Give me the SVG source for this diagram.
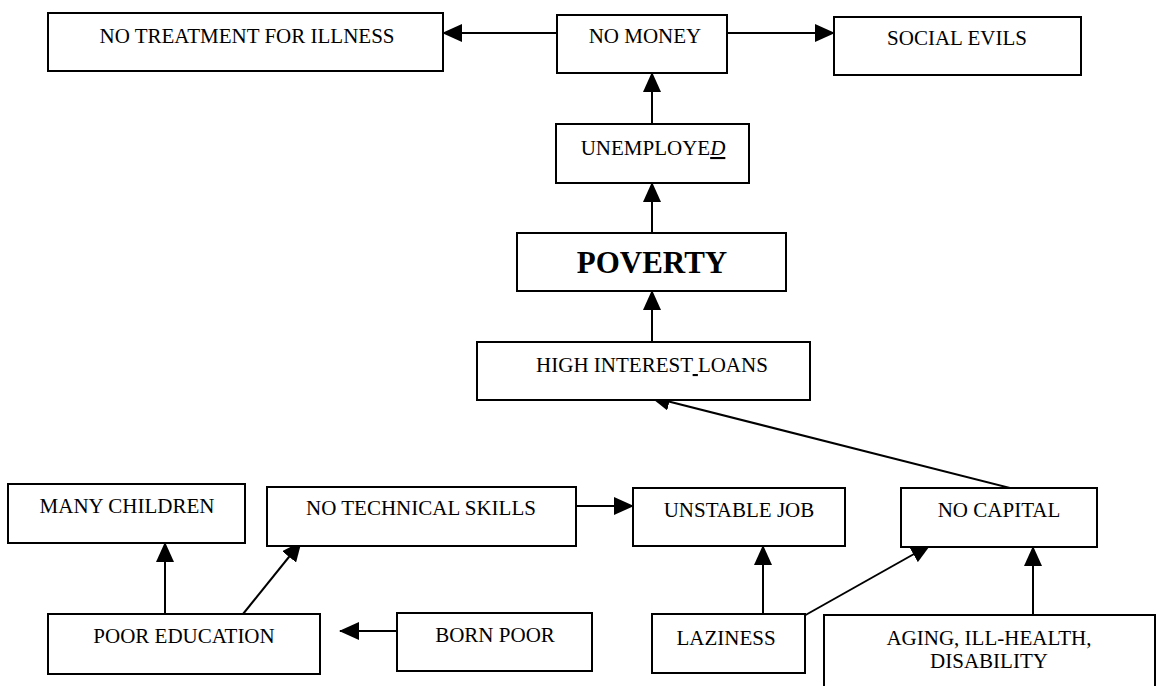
<svg xmlns="http://www.w3.org/2000/svg" width="1157" height="686" viewBox="0 0 1157 686">
<defs>
<marker id="ah" markerWidth="20" markerHeight="18" refX="19" refY="9" orient="auto" markerUnits="userSpaceOnUse">
<path d="M0,0 L20,9 L0,18 z" fill="#000"/>
</marker>
<style>
.box{fill:#fff;stroke:#000;stroke-width:2}
.t{font-family:"Liberation Serif","Times New Roman",serif;font-size:21px;fill:#000;text-anchor:middle}
.big{font-family:"Liberation Serif","Times New Roman",serif;font-size:31px;font-weight:bold;fill:#000;text-anchor:middle}
.c{stroke:#000;stroke-width:2;fill:none;marker-end:url(#ah)}
</style>
</defs>
<rect width="1157" height="686" fill="#fff"/>
<g id="connectors">
<line class="c" x1="557" y1="33" x2="443" y2="33"/>
<line class="c" x1="727" y1="33" x2="834" y2="33"/>
<line class="c" x1="652" y1="124" x2="652" y2="73"/>
<line class="c" x1="652" y1="233" x2="652" y2="183"/>
<line class="c" x1="652" y1="342" x2="652" y2="291"/>
<line class="c" x1="1034" y1="494" x2="651" y2="397"/>
<line class="c" x1="165" y1="614" x2="165" y2="543"/>
<line class="c" x1="243" y1="614" x2="301" y2="542"/>
<line class="c" x1="397" y1="631" x2="340" y2="631"/>
<line class="c" x1="576" y1="506" x2="633" y2="506"/>
<line class="c" x1="763" y1="614" x2="763" y2="546"/>
<line class="c" x1="802" y1="617" x2="930" y2="545"/>
<line class="c" x1="1033" y1="615" x2="1033" y2="547"/>
</g>
<g id="no-treatment"><rect class="box" x="48" y="13" width="395" height="58"/><text class="t" x="247" y="43">NO TREATMENT FOR ILLNESS</text></g>
<g id="no-money"><rect class="box" x="557" y="15" width="170" height="58"/><text class="t" x="645" y="43">NO MONEY</text></g>
<g id="social-evils"><rect class="box" x="834" y="17" width="247" height="58"/><text class="t" x="957" y="45">SOCIAL EVILS</text></g>
<g id="unemployed"><rect class="box" x="556" y="124" width="193" height="59"/><text class="t" x="653" y="155">UNEMPLOYE<tspan font-style="italic" text-decoration="underline">D</tspan></text></g>
<g id="poverty"><rect class="box" x="517" y="233" width="269" height="58"/><text class="big" x="652" y="273">POVERTY</text></g>
<g id="high-interest"><rect class="box" x="477" y="342" width="333" height="58"/><text class="t" x="652" y="372">HIGH INTEREST<tspan text-decoration="underline"> </tspan>LOANS</text></g>
<g id="many-children"><rect class="box" x="8" y="484" width="237" height="59"/><text class="t" x="127" y="513">MANY CHILDREN</text></g>
<g id="no-technical-skills"><rect class="box" x="267" y="487" width="309" height="59"/><text class="t" x="421" y="515">NO TECHNICAL SKILLS</text></g>
<g id="unstable-job"><rect class="box" x="633" y="488" width="212" height="58"/><text class="t" x="739" y="517">UNSTABLE JOB</text></g>
<g id="no-capital"><rect class="box" x="901" y="488" width="196" height="59"/><text class="t" x="999" y="517">NO CAPITAL</text></g>
<g id="poor-education"><rect class="box" x="48" y="614" width="272" height="60"/><text class="t" x="184" y="643">POOR EDUCATION</text></g>
<g id="born-poor"><rect class="box" x="397" y="613" width="195" height="58"/><text class="t" x="495" y="642">BORN POOR</text></g>
<g id="laziness"><rect class="box" x="652" y="614" width="153" height="59"/><text class="t" x="726" y="645">LAZINESS</text></g>
<g id="aging"><rect class="box" x="824" y="615" width="331" height="80"/><text class="t" x="989" y="645">AGING, ILL-HEALTH,</text><text class="t" x="989" y="668">DISABILITY</text></g>
</svg>
